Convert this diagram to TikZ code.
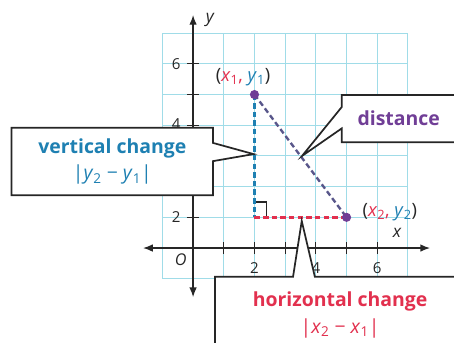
\documentclass[tikz,border=0pt]{standalone}
\usepackage{fontspec}
\setmainfont{Open Sans}
\usepackage{tikz}
\usetikzlibrary{arrows.meta, positioning, calc}
\definecolor{gridcyan}{RGB}{160,220,232}
\definecolor{vblue}{RGB}{30,128,178}
\definecolor{hred}{RGB}{226,48,78}
\definecolor{dpurple}{RGB}{112,62,150}
\definecolor{dgray}{RGB}{88,86,138}
\newcommand{\varsub}[2]{\textit{#1}\textsubscript{#2}}
\pgfdeclarelayer{back}
\pgfsetlayers{back,main}
\tikzset{
    dot/.style={circle, fill=dpurple, inner sep=0pt, minimum size=8.5pt},
    axisline/.style={{Latex[length=9pt,width=7pt]}-{Latex[length=9pt,width=7pt]}, line width=1.2pt, black!85},
    tick/.style={line width=1pt, black!85},
    gridline/.style={gridcyan, line width=0.9pt},
    dashline/.style={line width=2.2pt, dash pattern=on 5pt off 3pt},
    callout/.style={draw=black!85, line width=1.6pt, fill=white, line join=miter},
    cotext/.style={font=\fontsize{18}{25}\selectfont\bfseries, align=center, inner sep=0pt},
    num/.style={font=\fontsize{14}{16}\selectfont, text=black!85, inner sep=1pt},
    ptlabel/.style={font=\fontsize{17}{19}\selectfont, text=black!85, inner sep=1pt}
}

\begin{document}
\begin{tikzpicture}
  \useasboundingbox (-6.29,-3.09) rectangle (8.50,8.08);
  \clip (-6.29,-3.09) rectangle (8.50,8.08);

  % callout texts
  \node[cotext, text=vblue, minimum width=6.55cm, minimum height=2.18cm] (vert) at (-2.63,2.82)
    {vertical change\\{\mdseries|\varsub{y}{2} − \varsub{y}{1}|}};
  \node[cotext, text=dpurple, minimum width=3.7cm, minimum height=1.53cm] (dist) at (6.70,4.215) {distance};
  \node[cotext, text=hred, minimum width=8.14cm, minimum height=2.46cm] (horiz) at (4.79,-2.17)
    {horizontal change\\{\mdseries|\varsub{x}{2} − \varsub{x}{1}|}};

  \coordinate (P1) at (2,5);
  \coordinate (P2) at (5,1);
  \coordinate (rt) at (2,1);
  \coordinate (vtip) at (1.97,3.06);
  \coordinate (dtip) at (3.55,3.0);
  \coordinate (htip) at (3.54,0.88);

  \begin{pgfonlayer}{back}
    \draw[gridline] (-1,-1) grid (7,7);
    \draw[axisline] (-1.63,0) coordinate (xl) -- (7.72,0) coordinate (xr);
    \draw[axisline] (0,-1.6) coordinate (yb) -- (0,7.59) coordinate (yt);
    \foreach \i in {1,...,6} {
      \draw[tick] (\i,-0.2) -- (\i,0.2);
      \draw[tick] (-0.2,\i) -- (0.2,\i);
    }
    \node[ptlabel, font=\fontsize{16}{18}\selectfont\itshape] (ylab) at (0.55,7.43) {y};
    \node[ptlabel, font=\fontsize{16}{18}\selectfont\itshape] (xlab) at (6.64,0.49) {x};
    \node[num, font=\fontsize{15}{17}\selectfont\itshape] (orig) at (-0.4,-0.38) {O};
    \node[num] (x2n) at (2,-0.65) {2};
    \node[num] (x4n) at (4,-0.65) {4};
    \node[num] (x6n) at (6,-0.65) {6};
    \node[num] (y6n) at (-0.55,6) {6};
    \node[num] (y4n) at (-0.55,4.05) {4};
    \node[num] (y2n) at (-0.55,1) {2};

    % right triangle
    \draw[line width=1.2pt, black!85] (2,1.5) -- (2.4,1.5) -- (2.4,1);
    \draw[dashline, vblue] (P1) -- (rt);
    \draw[dashline, hred] (rt) -- (P2);
    \draw[dashline, dgray] (P1) -- (P2);
    \node[dot] (d1) at (P1) {};
    \node[dot] (d2) at (P2) {};
    \node[ptlabel] (l1) at (1.63,5.57) {(\textcolor{hred}{\varsub{x}{1},} \textcolor{vblue}{\varsub{y}{1}})};
    \node[ptlabel] (l2) at (6.41,1.17) {(\textcolor{hred}{\varsub{x}{2},} \textcolor{vblue}{\varsub{y}{2}})};

    % callout outlines
    \draw[callout] (vert.north west) -- (vert.north east)
      -- ($(vert.north east)!0.225!(vert.south east)$) -- (vtip)
      -- ($(vert.north east)!0.495!(vert.south east)$) -- (vert.south east)
      -- (vert.south west) -- cycle;
    \draw[callout] (dist.north east) -- (dist.north west)
      -- ($(dist.north west)!0.255!(dist.south west)$) -- (dtip)
      -- ($(dist.north west)!0.706!(dist.south west)$) -- (dist.south west)
      -- (dist.south east) -- cycle;
    \draw[callout] (horiz.north west)
      -- ($(horiz.north west)!0.312!(horiz.north east)$) -- (htip)
      -- ($(horiz.north west)!0.399!(horiz.north east)$) -- (horiz.north east)
      -- (horiz.south east) -- (horiz.south west) -- cycle;
  \end{pgfonlayer}
\end{tikzpicture}
\end{document}
